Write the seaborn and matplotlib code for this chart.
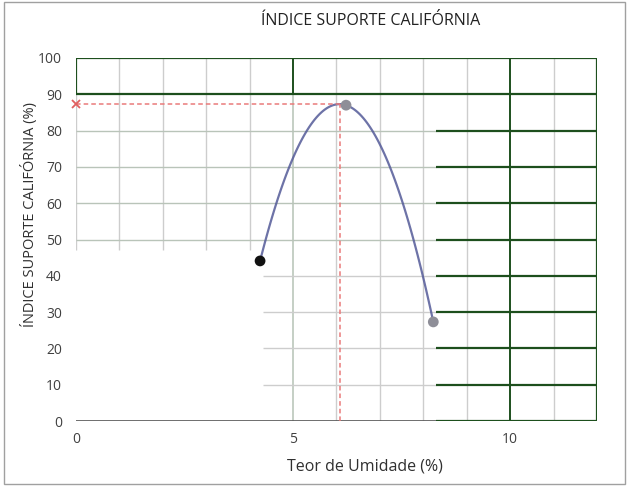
import numpy as np
import pandas as pd
import matplotlib
matplotlib.use('Agg')
import matplotlib.pyplot as plt
import seaborn as sns
from matplotlib.patches import Rectangle

# Ensaio CBR
umidade = [4.24, 6.22, 8.23]
isc = [44.1, 87.0, 27.3]
ponto_cor = ['#111111', '#8e8e98', '#8e8e98']

x_ticks = [0, 5, 10]
y_ticks = list(range(0, 101, 10))
x_minor = list(range(0, 13))

df = pd.DataFrame({'Umidade': umidade, 'ISC': isc})

sns.set_theme(style="white")
plt.rcParams['font.family'] = ['Open Sans', 'DejaVu Sans']

fig = plt.figure(figsize=(6.29, 4.86), dpi=100)
ax = fig.add_axes([0.1208, 0.1337, 0.8283, 0.747])
ax.set_xlim(0, 12)
ax.set_ylim(0, 100)

light = '#cdcdcd'
dark = '#1d4f1d'
split_x = 8.3      # onde a grade escura comeca (quirk da imagem)
patch_x, patch_y = 4.3, 47   # area sem grade no canto inferior esquerdo

# grade vertical
for xv in x_minor[1:-1]:
    if xv == 10:
        ax.vlines(xv, 0, 100, color=dark, lw=1.4, zorder=1)
    elif xv == 5:
        ax.vlines(xv, 0, 90, color='#b5c2b5', lw=1.1, zorder=1)
        ax.vlines(xv, 90, 100, color=dark, lw=1.4, zorder=1)
    elif xv < patch_x:
        ax.vlines(xv, patch_y, 100, color=light, lw=1, zorder=1)
    else:
        ax.vlines(xv, 0, 100, color=light, lw=1, zorder=1)
ax.vlines(12, 0, 100, color=dark, lw=1.6, zorder=1)
ax.vlines(0, 90, 100, color=dark, lw=1.6, zorder=1)
ax.vlines(0, patch_y, 90, color=light, lw=1, zorder=1)

# grade horizontal
for yv in y_ticks:
    if yv >= 90:
        ax.hlines(yv, 0, 12, color=dark, lw=1.6, zorder=1)
        continue
    x0 = 0 if yv >= 50 else patch_x
    if yv == 0:
        ax.hlines(yv, 0, split_x, color='#555555', lw=1.2, zorder=1)
    else:
        ax.hlines(yv, x0, split_x, color=light if yv < 50 else '#b9c4b9', lw=1, zorder=1)
    ax.hlines(yv, split_x, 12, color=dark, lw=1.6, zorder=1)

for s in ax.spines.values():
    s.set_visible(False)

# curva ajustada (polinomio de 2o grau)
sns.regplot(data=df, x='Umidade', y='ISC', order=2, ci=None, scatter=False,
            line_kws={'color': '#545a98', 'lw': 1.6, 'alpha': 0.85}, ax=ax)

# umidade otima / ISC maximo pela curva
coef = np.polyfit(umidade, isc, 2)
h_ot = -coef[1] / (2 * coef[0])
isc_max = np.polyval(coef, h_ot)
ax.plot([0, h_ot], [isc_max, isc_max], ls=(0, (3, 2)), color='#ea7a7a', lw=1.1, zorder=3)
ax.plot([h_ot, h_ot], [0, isc_max], ls=(0, (3, 2)), color='#ea7a7a', lw=1.1, zorder=3)
ax.plot([0], [isc_max], marker='x', color='#e06060', ms=6, mew=1.3, zorder=4, clip_on=False)

sns.scatterplot(x=umidade, y=isc, c=ponto_cor, s=60, edgecolor='none', zorder=5, ax=ax)

ax.set_xticks(x_ticks)
ax.set_yticks(y_ticks)
ax.tick_params(axis='both', labelsize=10, colors='#404040', length=0)
ax.tick_params(axis='x', pad=8)
ax.tick_params(axis='y', pad=10)
ax.set_xlabel('Teor de Umidade (%)', fontsize=11.5, color='#303030')
ax.xaxis.set_label_coords(0.555, -0.102)
ax.set_ylabel('ÍNDICE SUPORTE CALIFÓRNIA (%)', fontsize=10.5, color='#303030')
ax.yaxis.set_label_coords(-0.073, 0.57)
fig.text(0.589, 0.957, 'ÍNDICE SUPORTE CALIFÓRNIA', ha='center', va='center',
         fontsize=11.5, color='#222222')

fig.patches.append(Rectangle((0.006, 0.004), 0.988, 0.992, transform=fig.transFigure,
                             fill=False, edgecolor='#a0a0a0', lw=1))

fig.savefig('out.png', dpi=100)
plt.close(fig)
